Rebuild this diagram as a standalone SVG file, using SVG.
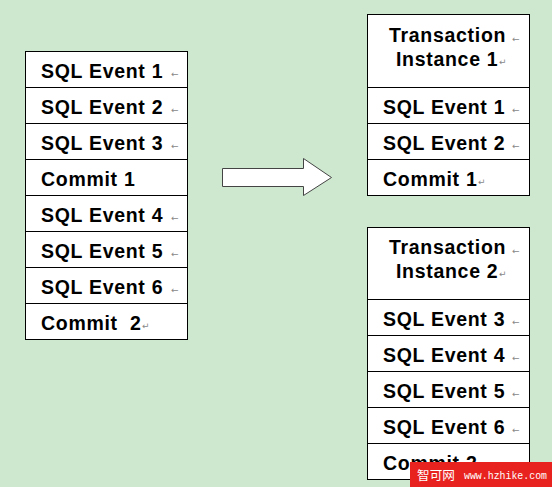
<svg xmlns="http://www.w3.org/2000/svg" width="552" height="487" viewBox="0 0 552 487">
<style>
.cell{fill:#ffffff;stroke:#000000;stroke-width:1}
.t{font-family:"Liberation Sans",Arial,sans-serif;font-weight:bold;font-size:19.5px;fill:#000000;letter-spacing:0.7px}
.m{font-family:"DejaVu Sans",sans-serif;font-size:9px;fill:#888888}
.wm{font-family:"Noto Sans CJK SC","DejaVu Sans",sans-serif;font-size:12.5px;fill:#ffffff}
.wm2{font-family:"Liberation Mono",monospace;font-size:10px;fill:#ffffff}
</style>
<rect width="552" height="487" fill="#cde8cf"/>
<g id="source-table">
<rect class="cell" x="25.5" y="51.5" width="162" height="36"/>
<rect class="cell" x="25.5" y="87.5" width="162" height="36"/>
<rect class="cell" x="25.5" y="123.5" width="162" height="36"/>
<rect class="cell" x="25.5" y="159.5" width="162" height="36"/>
<rect class="cell" x="25.5" y="195.5" width="162" height="36"/>
<rect class="cell" x="25.5" y="231.5" width="162" height="36"/>
<rect class="cell" x="25.5" y="267.5" width="162" height="36"/>
<rect class="cell" x="25.5" y="303.5" width="162" height="36"/>
<text class="t" x="41" y="77.5">SQL Event 1</text><text class="m" x="171" y="77">←</text>
<text class="t" x="41" y="113.5">SQL Event 2</text><text class="m" x="171" y="113">←</text>
<text class="t" x="41" y="149.5">SQL Event 3</text><text class="m" x="171" y="149">←</text>
<text class="t" x="41" y="185.5">Commit 1</text>
<text class="t" x="41" y="221.5">SQL Event 4</text><text class="m" x="171" y="221">←</text>
<text class="t" x="41" y="257.5">SQL Event 5</text><text class="m" x="171" y="257">←</text>
<text class="t" x="41" y="293.5">SQL Event 6</text><text class="m" x="171" y="293">←</text>
<text class="t" x="41" y="329.5" xml:space="preserve">Commit  2</text><text class="m" x="142" y="329">↵</text>
</g>
<g id="arrow">
<polygon points="222.5,168.5 303.5,168.5 303.5,158.5 331.5,177.5 303.5,195.5 303.5,186.5 222.5,186.5" fill="#ffffff" stroke="#444444" stroke-width="1"/>
</g>
<g id="transaction-1">
<rect class="cell" x="367.5" y="14.5" width="162" height="73"/>
<rect class="cell" x="367.5" y="87.5" width="162" height="36"/>
<rect class="cell" x="367.5" y="123.5" width="162" height="36"/>
<rect class="cell" x="367.5" y="159.5" width="162" height="36"/>
<text class="t" x="389" y="42">Transaction</text><text class="m" x="512" y="42">←</text>
<text class="t" x="396" y="65.5">Instance 1</text><text class="m" x="499" y="65">↵</text>
<text class="t" x="383" y="113.5">SQL Event 1</text><text class="m" x="512" y="113">←</text>
<text class="t" x="383" y="149.5">SQL Event 2</text><text class="m" x="512" y="149">←</text>
<text class="t" x="383" y="185.5">Commit 1</text><text class="m" x="478" y="185">↵</text>
</g>
<g id="transaction-2">
<rect class="cell" x="367.5" y="227.5" width="162" height="72"/>
<rect class="cell" x="367.5" y="299.5" width="162" height="36"/>
<rect class="cell" x="367.5" y="335.5" width="162" height="36"/>
<rect class="cell" x="367.5" y="371.5" width="162" height="36"/>
<rect class="cell" x="367.5" y="407.5" width="162" height="36"/>
<rect class="cell" x="367.5" y="443.5" width="162" height="36"/>
<text class="t" x="389" y="254">Transaction</text><text class="m" x="512" y="254">←</text>
<text class="t" x="396" y="277.5">Instance 2</text><text class="m" x="499" y="277">↵</text>
<text class="t" x="383" y="325.5">SQL Event 3</text><text class="m" x="512" y="325">←</text>
<text class="t" x="383" y="361.5">SQL Event 4</text><text class="m" x="512" y="361">←</text>
<text class="t" x="383" y="397.5">SQL Event 5</text><text class="m" x="512" y="397">←</text>
<text class="t" x="383" y="433.5">SQL Event 6</text><text class="m" x="512" y="433">←</text>
<text class="t" x="383" y="469.5">Commit 2</text>
</g>
<g id="watermark">
<rect x="410" y="462" width="142" height="25" fill="#e8231f"/>
<text class="wm" x="417" y="480" textLength="38" lengthAdjust="spacingAndGlyphs">智可网</text>
<text class="wm2" x="464" y="479" textLength="83" lengthAdjust="spacingAndGlyphs">www.hzhike.com</text>
</g>
</svg>
